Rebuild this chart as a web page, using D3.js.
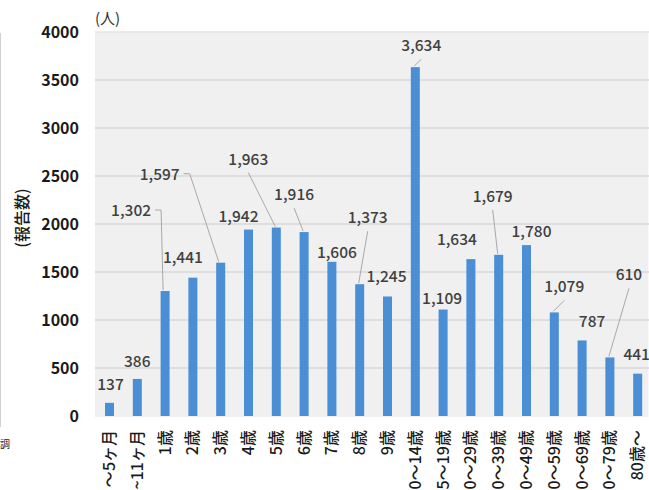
<!DOCTYPE html>
<html><head><meta charset="utf-8">
<script src="https://cdn.jsdelivr.net/npm/d3@7"></script>
<style>
html,body{margin:0;padding:0;background:#fff;overflow:hidden;}
svg{display:block;}
</style></head>
<body>
<svg id="chart" width="649" height="490"></svg>
<script>
// ---- data ----
const categories = ["～5ヶ月","~11ヶ月","1歳","2歳","3歳","4歳","5歳","6歳","7歳","8歳","9歳",
  "0～14歳","5～19歳","0～29歳","0～39歳","0～49歳","0～59歳","0～69歳","0～79歳","80歳～"];
const values = [137,386,1302,1441,1597,1942,1963,1916,1606,1373,1245,3634,1109,1634,1679,1780,1079,787,610,441];
const yTicks = [0,500,1000,1500,2000,2500,3000,3500,4000];

// label placement (offset of label centre / baseline from bar top centre)
const labelDx = [1,0,-34,-10,-61,-10,-28,-10,5,8,-1,6,-1,-14,-6,5,10,10,19,-1];
const labelDy = [-13,-12,-75,-15,-83,-8,-63,-32,-4,-61,-14,-16,-6,-14,-53,-8,-20,-13,-77,-14];
// leader: 0 none, 1 elbow from label right side, 2 straight from below label
const leaderType = [0,0,1,0,1,0,2,2,0,2,0,2,0,0,2,0,2,0,2,0];

const svg = d3.select("#chart");
const W = 649, H = 490;
const m = {left:95.6, top:32, bottom:416};

const x = d3.scaleBand().domain(categories).range([m.left, m.left + 27.8*categories.length]).paddingInner(0.676).paddingOuter(0.338);
const y = d3.scaleLinear().domain([0,4000]).range([m.bottom, m.top]);

// left border line
svg.append("line").attr("x1",0.5).attr("x2",0.5).attr("y1",33).attr("y2",427).attr("stroke","#d0d0d0");

// plot background
svg.append("rect").attr("x",m.left-0.6).attr("y",m.top).attr("width",W-m.left).attr("height",m.bottom-m.top+1).attr("fill","#f0f0f0");

// gridlines
svg.append("g").selectAll("line").data(yTicks.filter(d=>d>0)).join("line")
  .attr("x1",m.left-0.6).attr("x2",W).attr("y1",d=>y(d)).attr("y2",d=>y(d))
  .attr("stroke",d=>d===4000?"#e4e4e4":"#d9d9d9").attr("stroke-width",1.5);

// y axis tick labels
const yAxis = d3.axisLeft(y).tickValues(yTicks).tickSize(0).tickPadding(0).tickFormat(d3.format("d"));
const gy = svg.append("g").attr("transform","translate(79,0)").call(yAxis);
gy.select(".domain").remove();
gy.selectAll("text").attr("font-family","'Noto Sans CJK JP', 'Liberation Sans', sans-serif")
  .attr("font-size",16).attr("font-weight",700).attr("fill","#1a1a1a").attr("dy","0.36em");

// bars
const bw = x.bandwidth();
svg.append("g").selectAll("rect").data(values).join("rect")
  .attr("x",(d,i)=>x(categories[i]))
  .attr("y",d=>y(d)).attr("width",bw).attr("height",d=>y(0)-y(d))
  .attr("fill","#4a8ed6");

// leader lines
const cx = i => x(categories[i]) + bw/2;
const lg = svg.append("g").attr("fill","none").attr("stroke","#a8a8a8").attr("stroke-width",1);
values.forEach((v,i)=>{
  const lx = cx(i)+labelDx[i], ly = y(v)+labelDy[i];
  if (leaderType[i]===1){
    const sx = lx + 24, sy = ly - 6;
    lg.append("polyline").attr("points",[[sx,sy],[sx+6,sy],[cx(i)-2,y(v)-1]].map(p=>p.join(",")).join(" "));
  } else if (leaderType[i]===2){
    lg.append("line").attr("x1",lx).attr("y1",ly+8).attr("x2",cx(i)-1).attr("y2",y(v)-1);
  }
});

// value labels
svg.append("g").selectAll("text").data(values).join("text")
  .attr("x",(d,i)=>cx(i)+labelDx[i]).attr("y",(d,i)=>y(d)+labelDy[i])
  .attr("text-anchor","middle")
  .attr("font-family","'Noto Sans CJK JP', 'Liberation Sans', sans-serif")
  .attr("font-size",15.5).attr("font-weight",500).attr("fill","#404040")
  .text(d=>d3.format(",")(d));

// x labels (rotated)
svg.append("g").selectAll("text").data(categories).join("text")
  .attr("transform",(d,i)=>`translate(${cx(i)+5.5},430) rotate(-90)`)
  .attr("text-anchor","end")
  .attr("font-family","'Noto Sans CJK JP', sans-serif")
  .attr("font-size",16).attr("font-weight",500).attr("fill","#1a1a1a")
  .text(d=>d);

// y axis title
svg.append("text").attr("transform","translate(28,218) rotate(-90)")
  .attr("text-anchor","middle")
  .attr("font-family","'Noto Sans CJK JP', sans-serif")
  .attr("font-size",16).attr("font-weight",500).attr("fill","#1a1a1a")
  .text("(報告数)");

// unit
svg.append("text").attr("x",95).attr("y",24)
  .attr("font-family","'Noto Sans CJK JP', sans-serif")
  .attr("font-size",15).attr("fill","#303030")
  .text("(人)");

// glyph at bottom-left
svg.append("text").attr("x",0).attr("y",448)
  .attr("font-family","'Noto Sans CJK JP', sans-serif")
  .attr("font-size",10).attr("fill","#1a1a1a")
  .text("調");
</script>
</body></html>
